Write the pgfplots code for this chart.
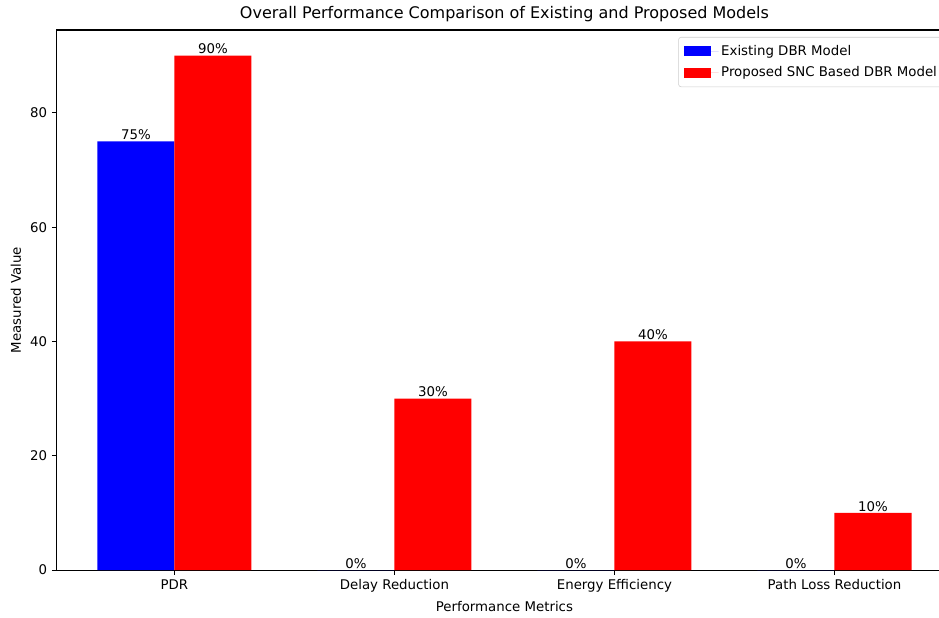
\documentclass[border=0pt]{standalone}
\usepackage{fontspec}
\setmainfont{DejaVu Sans}
\usepackage{pgfplots}
\pgfplotsset{compat=1.18}
\newcommand{\basefont}{\fontsize{10}{12}\selectfont}
\begin{document}
\begin{tikzpicture}
\begin{axis}[
  name=ax,
  scale only axis,
  width=671.6pt, height=405pt,
  xmin=-0.535, xmax=3.535,
  ymin=0, ymax=94.5,
  ybar, bar width=0.35, bar shift=0pt,
  xtick={0,1,2,3},
  xticklabels={PDR, Delay Reduction, Energy Efficiency, Path Loss Reduction},
  ytick={0,20,40,60,80},
  tick pos=left, tick align=outside, major tick length=3.6pt,
  tick style={black, line width=0.8pt},
  axis line style={line width=0.8pt},
  /pgf/number format/assume math mode=true,
  ticklabel style={font=\basefont},
  xlabel={Performance Metrics},
  ylabel={Measured Value},
  label style={font=\basefont},
  title={Overall Performance Comparison of Existing and Proposed Models},
  title style={font=\fontsize{12}{14.4}\selectfont, yshift=-3.5pt},
  nodes near coords={\pgfmathprintnumber{\pgfplotspointmeta}\%},
  every node near coord/.append style={font=\basefont, anchor=south, inner sep=1pt},
  legend style={at={(1,1)}, anchor=north east, xshift=-5.25pt, yshift=-5.25pt,
    draw=black!20, rounded corners=2pt, font=\basefont, row sep=3pt,
    inner xsep=4pt, inner ysep=4pt},
  legend cell align=left,
  legend image code/.code={\fill[#1, sharp corners] (0pt,-3.75pt) rectangle (20pt,3.75pt);
    \path (0pt,0pt) -- (26pt,0pt);},
]
\addplot[fill=blue, draw=none] coordinates {(-0.175,75) (0.825,0) (1.825,0) (2.825,0)};
\addplot[fill=red, draw=none] coordinates {(0.175,90) (1.175,30) (2.175,40) (3.175,10)};
\legend{Existing DBR Model, Proposed SNC Based DBR Model}
\end{axis}
\pgfresetboundingbox
\path[use as bounding box] ([xshift=-42.5pt,yshift=-35.25pt]ax.south west) rectangle ([xshift=661.7pt,yshift=22.5pt]ax.north west);
\end{tikzpicture}
\end{document}
